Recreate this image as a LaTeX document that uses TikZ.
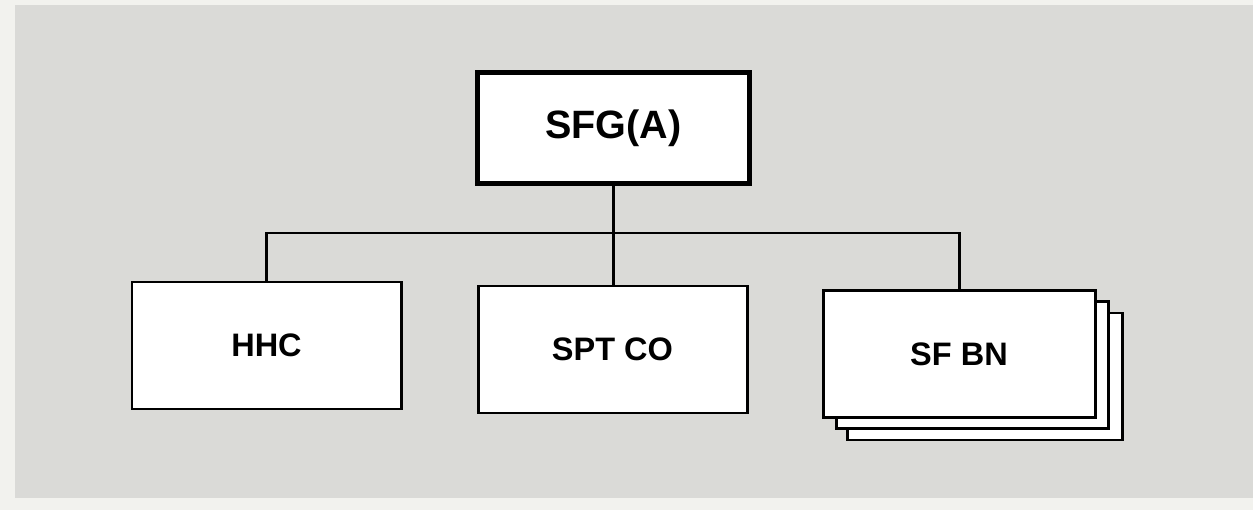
\documentclass[tikz,border=0pt]{standalone}
\usepackage{fontspec}
\setmainfont{Liberation Sans}
\usetikzlibrary{positioning}
\definecolor{paper}{RGB}{242,242,238}
\definecolor{screen}{RGB}{218,218,215}
\tikzset{
    unit/.style={
    rectangle,draw=black,fill=white,line width=1.7pt,
    minimum width=5.38cm,minimum height=2.54cm,
    font=\fontsize{18.5}{20}\selectfont\bfseries
    },
    hq/.style={
    unit,line width=2.3pt,minimum width=5.44cm,minimum height=2.22cm,
    font=\fontsize{22.5}{24}\selectfont\bfseries
    },
    link/.style={
    draw=black,line width=1.7pt
    },
}
\begin{document}
\begin{tikzpicture}[node distance=6.92cm, on grid]
   % page and screened panel
   \fill[paper] (0,0) rectangle (25.06,-10.2);
   \fill[screen] (0.3,-0.1) rectangle (25.06,-9.95);
   \useasboundingbox (0,0) rectangle (25.06,-10.2);

   \node[hq]   (sfg)   at (12.27,-2.56) {SFG(A)};
   \node[unit] (sptco) at (12.25,-6.99) {SPT CO};
   \node[unit] (hhc)   at (5.33,-6.91)  {HHC};
   % stacked battalions, back to front
   \node[unit,minimum width=5.5cm] (sfbnc) at (19.69,-7.53) {};
   \node[unit,minimum width=5.44cm] (sfbnb) at (19.44,-7.30) {};
   \node[unit,minimum width=5.44cm] (sfbn)  at (19.18,-7.08) {SF BN};

   \coordinate (bus) at (0,-4.66);
  \path[link]
    (sfg.south) -- (sfg.south |- sptco.north)
    (hhc.north) -- (hhc.north |- bus) -- (sfbn.north |- bus) -- (sfbn.north);
\end{tikzpicture}
\end{document}
